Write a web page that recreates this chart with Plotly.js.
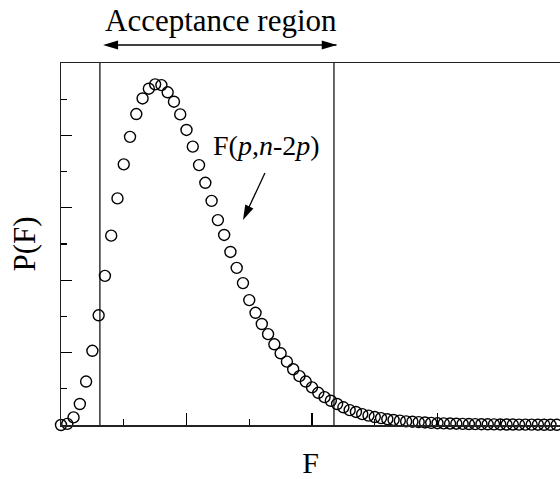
<!DOCTYPE html>
<html>
<head>
<meta charset="utf-8">
<script src="https://cdn.plot.ly/plotly-3.0.1.min.js"></script>
<style>html,body{margin:0;padding:0;background:#fff;}#chart{width:560px;height:479px;}</style>
</head>
<body>
<div id="chart"></div>
<script>
// Data: F values (step 0.05) and P(F) in axis units (0..10)
const fValues = [];
for (let i = 0; i < 80; i++) fValues.push(+(i * 0.05).toFixed(2));
const pValues = [
  0.00, 0.03, 0.21, 0.58, 1.20, 2.05, 3.03, 4.12, 5.23, 6.26,
  7.20, 7.96, 8.59, 9.02, 9.29, 9.41, 9.39, 9.19, 8.93, 8.58,
  8.15, 7.69, 7.18, 6.69, 6.19, 5.66, 5.25, 4.78, 4.34, 3.92,
  3.45, 3.10, 2.79, 2.51, 2.23, 1.98, 1.75, 1.54, 1.35, 1.20,
  1.04, 0.89, 0.77, 0.67, 0.58, 0.49, 0.41, 0.36, 0.30, 0.26,
  0.22, 0.19, 0.16, 0.14, 0.12, 0.10, 0.09, 0.08, 0.07, 0.06,
  0.05, 0.045, 0.04, 0.035, 0.03, 0.027, 0.024, 0.021, 0.019, 0.017,
  0.015, 0.013, 0.012, 0.011, 0.010, 0.009, 0.008, 0.007, 0.006, 0.005
];
// Acceptance region bounds (F units)
const acceptLow = 0.31;
const acceptHigh = 2.175;
const labels = {
  region: 'Acceptance region',
  curve: 'F(<i>p</i>,<i>n</i>-2<i>p</i>)',
  xTitle: 'F',
  yTitle: 'P(F)'
};

const FONT = 'Liberation Serif, Times New Roman, serif';

const trace = {
  x: fValues,
  y: pValues,
  type: 'scatter',
  mode: 'markers',
  cliponaxis: false,
  marker: {symbol: 'circle-open', size: 11, color: '#000', line: {width: 1.4, color: '#000'}},
  hoverinfo: 'skip'
};

const arrowY = 1.0497;
const tail = {x: 1.625, y: 6.96};
const tip = {x: 1.45, y: 5.66};

const shapes = [
  {type: 'line', xref: 'x', yref: 'y', x0: acceptLow, x1: acceptLow, y0: 0, y1: 10, line: {color: '#000', width: 1.2}},
  {type: 'line', xref: 'x', yref: 'y', x0: acceptHigh, x1: acceptHigh, y0: 0, y1: 10, line: {color: '#000', width: 1.2}},
  // double-headed arrow above the plot
  {type: 'line', xref: 'x', yref: 'paper', x0: acceptLow + 0.05, x1: acceptHigh + 0.02, y0: arrowY, y1: arrowY, line: {color: '#000', width: 1.3}},
  {type: 'path', xref: 'x', yref: 'paper', xsizemode: 'pixel', ysizemode: 'pixel', xanchor: acceptLow + 0.025, yanchor: arrowY,
   path: 'M0,0 L15,4.5 L15,-4.5 Z', fillcolor: '#000', line: {width: 0}},
  {type: 'path', xref: 'x', yref: 'paper', xsizemode: 'pixel', ysizemode: 'pixel', xanchor: acceptHigh + 0.022, yanchor: arrowY,
   path: 'M0,0 L-15,4.5 L-15,-4.5 Z', fillcolor: '#000', line: {width: 0}},
  // diagonal arrow pointing to the curve
  {type: 'line', xref: 'x', yref: 'y', x0: tail.x, y0: tail.y, x1: tip.x + 0.04, y1: tip.y + 0.3, line: {color: '#000', width: 1.3}},
  {type: 'path', xref: 'x', yref: 'y', xsizemode: 'pixel', ysizemode: 'pixel', xanchor: tip.x, yanchor: tip.y,
   path: 'M0,0 L10.4,11.7 L2.3,15.5 Z', fillcolor: '#000', line: {width: 0}}
];

const annotations = [
  {xref: 'x', yref: 'paper', x: (acceptLow + acceptHigh) / 2 + 0.03, y: 1.118, text: labels.region, showarrow: false,
   xanchor: 'center', yanchor: 'middle', font: {family: FONT, size: 31, color: '#000'}},
  {xref: 'x', yref: 'y', x: 1.635, y: 7.73, text: labels.curve, showarrow: false,
   xanchor: 'center', yanchor: 'middle', font: {family: FONT, size: 28, color: '#000'}}
];

const layout = {
  width: 560, height: 479,
  margin: {l: 61, r: 0, t: 63, b: 54, pad: 0},
  paper_bgcolor: '#fff', plot_bgcolor: '#fff',
  showlegend: false,
  font: {family: FONT, size: 28, color: '#000'},
  xaxis: {
    range: [0, 3.976], showgrid: false, zeroline: false,
    showline: true, linecolor: '#222', linewidth: 1.5, mirror: true,
    ticks: 'inside', ticklen: 12, tickwidth: 1.3, tickcolor: '#000',
    tick0: 0, dtick: 1, showticklabels: false,
    minor: {ticks: 'inside', dtick: 0.5, ticklen: 6, tickwidth: 1.3, tickcolor: '#000', showgrid: false},
    title: {text: labels.xTitle, font: {family: FONT, size: 30, color: '#000'}}
  },
  yaxis: {
    range: [0, 10], showgrid: false, zeroline: false,
    showline: true, linecolor: '#222', linewidth: 1.5,
    ticks: 'inside', ticklen: 11, tickwidth: 1.3, tickcolor: '#000',
    tick0: 0, dtick: 2, showticklabels: false,
    minor: {ticks: 'inside', dtick: 1, ticklen: 6, tickwidth: 1.3, tickcolor: '#000', showgrid: false},
    title: {text: labels.yTitle, standoff: 14, font: {family: FONT, size: 31, color: '#000'}}
  },
  shapes: shapes,
  annotations: annotations
};

Plotly.newPlot('chart', [trace], layout, {displayModeBar: false, staticPlot: true});
</script>
</body>
</html>
